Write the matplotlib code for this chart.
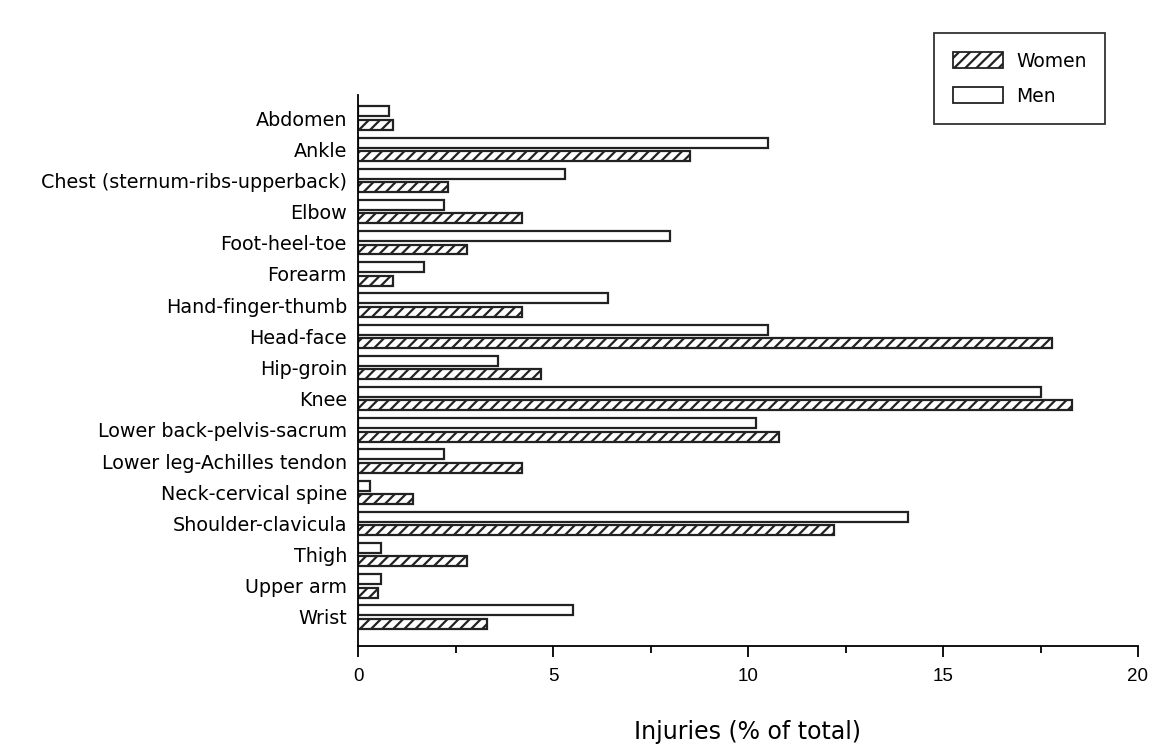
import matplotlib
matplotlib.use("Agg")
import matplotlib.pyplot as plt
from matplotlib.patches import Patch
import numpy as np

categories = ["Abdomen", "Ankle", "Chest (sternum-ribs-upperback)", "Elbow",
              "Foot-heel-toe", "Forearm", "Hand-finger-thumb", "Head-face",
              "Hip-groin", "Knee", "Lower back-pelvis-sacrum",
              "Lower leg-Achilles tendon", "Neck-cervical spine",
              "Shoulder-clavicula", "Thigh", "Upper arm", "Wrist"]
men = [0.8, 10.5, 5.3, 2.2, 8.0, 1.7, 6.4, 10.5, 3.6, 17.5, 10.2, 2.2, 0.3, 14.1, 0.6, 0.6, 5.5]
women = [0.9, 8.5, 2.3, 4.2, 2.8, 0.9, 4.2, 17.8, 4.7, 18.3, 10.8, 4.2, 1.4, 12.2, 2.8, 0.5, 3.3]
xticks = [0, 5, 10, 15, 20]

plt.rcParams['hatch.linewidth'] = 1.6

fig = plt.figure(figsize=(11.76, 7.47), dpi=100)
ax = fig.add_axes([358/1176, 1-646/747, 780/1176, 551/747])

y = np.arange(len(categories))
h = 0.32
off = 0.215
ax.barh(y - off, men, height=h, color='white', edgecolor='#222222', linewidth=1.6)
ax.barh(y + off, women, height=h, color='white', edgecolor='#222222', linewidth=1.6, hatch='///')

ax.set_ylim(len(categories) - 1 + 0.93, -0.74)
ax.set_xlim(0, 20)
ax.set_yticks(y)
ax.set_yticklabels(categories, fontsize=13.8, family='DejaVu Sans')
ax.tick_params(axis='y', length=0, pad=8)
ax.set_xticks(xticks)
ax.set_xticklabels([str(t) for t in xticks], fontsize=13.5, family='Liberation Sans')
ax.set_xticks([2.5, 7.5, 12.5, 17.5], minor=True)
ax.tick_params(axis='x', which='major', length=8, width=1.3, pad=8, direction='out')
ax.tick_params(axis='x', which='minor', length=5, width=1.3, direction='out')
for s in ['top', 'right']:
    ax.spines[s].set_visible(False)
for s in ['left', 'bottom']:
    ax.spines[s].set_linewidth(1.3)
ax.set_xlabel("Injuries (% of total)", fontsize=17, family='DejaVu Sans', labelpad=25)

handles = [Patch(facecolor='white', edgecolor='#222222', hatch='///', linewidth=1.3),
           Patch(facecolor='white', edgecolor='#222222', linewidth=1.3)]
leg = fig.legend(handles, ["Women", "Men"], loc='upper left',
                 bbox_to_anchor=(934/1176, 1-33/747), frameon=True, fancybox=False,
                 edgecolor='black', fontsize=13.5, handlelength=2.67, handleheight=0.95,
                 labelspacing=0.85, borderpad=1.0, handletextpad=0.7, borderaxespad=0)
leg.get_frame().set_linewidth(1.3)
for t in leg.get_texts():
    t.set_family('DejaVu Sans')

fig.savefig("out.png", dpi=100, facecolor='white')
